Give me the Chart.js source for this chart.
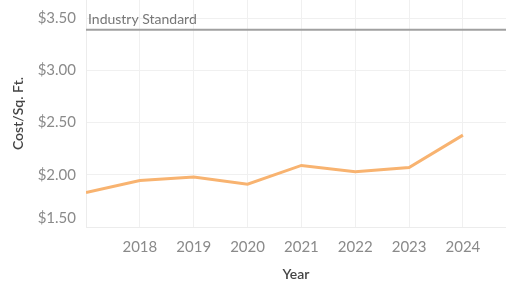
<!DOCTYPE html>
<html>
<head>
<meta charset="utf-8">
<script src="https://cdn.jsdelivr.net/npm/chart.js@4"></script>
<style>
  html, body { margin: 0; padding: 0; background: #ffffff; }
  #wrap { width: 506px; height: 287px; position: relative; }
</style>
</head>
<body>
<div id="wrap"><canvas id="c"></canvas></div>
<script>
// ---- data ----
const years = [2017, 2018, 2019, 2020, 2021, 2022, 2023, 2024];
const costPerSqFt = [1.83, 1.945, 1.98, 1.91, 2.09, 2.03, 2.07, 2.38];
const industryStandard = 3.39;
const industryLabel = 'Industry Standard';
const yTickValues = [1.5, 2.0, 2.5, 3.0, 3.5];
const xTickYears = [2017, 2018, 2019, 2020, 2021, 2022, 2023, 2024];
const hiddenXTick = 2017;
const xRange = [2017, 2024.8];
const yRange = [1.5, 3.675];

const FONT = 'Lato, "Open Sans", sans-serif';

const industryLabelPlugin = {
  id: 'industryLabel',
  afterDatasetsDraw(chart) {
    const x = chart.scales.x, y = chart.scales.y, ctx = chart.ctx;
    ctx.save();
    ctx.font = '14px ' + FONT;
    ctx.fillStyle = '#777777';
    ctx.textAlign = 'left';
    ctx.textBaseline = 'bottom';
    ctx.fillText(industryLabel, x.getPixelForValue(xRange[0]) + 2, y.getPixelForValue(industryStandard) - 3);
    ctx.restore();
  }
};

new Chart(document.getElementById('c'), {
  type: 'line',
  data: {
    datasets: [
      {
        label: 'Cost/Sq. Ft.',
        data: years.map((yr, i) => ({ x: yr, y: costPerSqFt[i] })),
        borderColor: '#f8b370',
        borderWidth: 3,
        pointRadius: 0,
        tension: 0,
        fill: false
      },
      {
        label: industryLabel,
        data: [{ x: xRange[0], y: industryStandard }, { x: xRange[1], y: industryStandard }],
        borderColor: '#a0a0a0',
        borderWidth: 2,
        pointRadius: 0,
        fill: false
      }
    ]
  },
  options: {
    responsive: true,
    maintainAspectRatio: false,
    animation: false,
    layout: { padding: 0 },
    plugins: { legend: { display: false }, tooltip: { enabled: false } },
    scales: {
      x: {
        type: 'linear',
        min: xRange[0],
        max: xRange[1],
        afterBuildTicks(scale) { scale.ticks = xTickYears.map(v => ({ value: v })); },
        afterFit(scale) { scale.height = 60; scale.paddingLeft = 0; scale.paddingRight = 0; },
        grid: { color: '#f0f0f0', drawTicks: false, lineWidth: 1 },
        border: { color: '#ececec' },
        ticks: {
          padding: 11,
          color: '#8a8a8a',
          font: { family: FONT, size: 15 },
          maxRotation: 0,
          autoSkip: false,
          callback: v => (v === hiddenXTick ? '' : String(v))
        },
        title: {
          display: true,
          text: 'Year',
          color: '#444444',
          font: { family: FONT, size: 14, weight: '600' },
          padding: { top: 0, bottom: 4 }
        }
      },
      y: {
        type: 'linear',
        min: yRange[0],
        max: yRange[1],
        afterBuildTicks(scale) { scale.ticks = yTickValues.map(v => ({ value: v })); },
        afterFit(scale) { scale.width = 86; scale.paddingTop = 0; scale.paddingBottom = 0; },
        grid: { color: '#f0f0f0', drawTicks: false, lineWidth: 1 },
        border: { color: '#ececec' },
        ticks: {
          padding: 10,
          color: '#8a8a8a',
          font: { family: FONT, size: 15 },
          callback: v => {
            const s = '$' + Number(v).toFixed(2);
            return v === yTickValues[0] ? [s, ''] : s;
          }
        },
        title: {
          display: true,
          text: 'Cost/Sq. Ft.',
          color: '#444444',
          font: { family: FONT, size: 14, weight: '600' },
          padding: { top: 10, bottom: 0 }
        }
      }
    }
  },
  plugins: [industryLabelPlugin]
});
</script>
</body>
</html>
